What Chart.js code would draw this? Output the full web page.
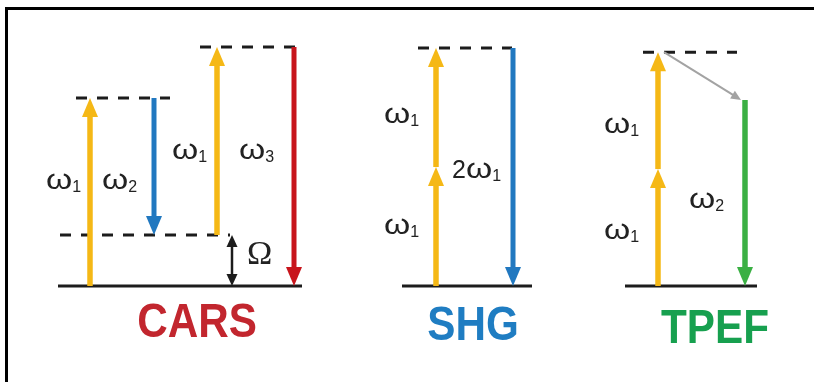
<!DOCTYPE html>
<html>
<head>
<meta charset="utf-8">
<script src="https://cdn.jsdelivr.net/npm/chart.js@4/dist/chart.umd.min.js"></script>
<style>
  html, body { margin: 0; padding: 0; background: #fff; }
  #wrap { width: 814px; height: 382px; }
</style>
</head>
<body>
<div id="wrap"><canvas id="diagram" width="814" height="382"></canvas></div>
<script>
// energies in units of the CARS pump photon (ground state = 0)
const panelNames = ['CARS', 'SHG', 'TPEF'];
const carsOmega = [1.0, 0.729, 1.271];   // ω1, ω2, ω3
const carsRaman = 0.271;                 // Ω
const shgOmega = [0.633, 1.266];         // ω1, 2ω1
const tpefOmega = [0.622, 0.99];         // ω1, ω2

const carsLabels = [['', '1'], ['', '2'], ['', '1'], ['', '3']];
const shgLabels = [['', '1'], ['', '1'], ['2', '1']];
const tpefLabels = [['', '1'], ['', '1'], ['', '2']];

const yellow = '#f5b816';
const blue = '#2178c0';
const red = '#c8151c';
const green = '#3bb044';
const gray = '#a3a3a3';
const ink = '#1c1c1c';
const titleColors = ['#c2262e', '#1f7dc2', '#17a04f'];

function level(x0, x1, e, dashed) {
    return {
        data: [{ x: x0, y: e }, { x: x1, y: e }],
        showLine: true,
        borderColor: ink,
        borderWidth: 3,
        borderDash: dashed ? [11, 10] : [],
        pointRadius: 0
    };
}

function arrow(x0, e0, x1, e1, color, width, opts) {
    return {
        data: [{ x: x0, y: e0 }, { x: x1, y: e1 }],
        showLine: false,
        pointRadius: 0,
        arrow: Object.assign({ color: color, width: width, headW: 16, headL: 19, both: false }, opts || {})
    };
}

const tpefTop = tpefOmega[0] * 2;

const datasets = [
    // CARS levels
    level(58, 302, 0, false),
    level(60, 230, carsRaman, true),
    level(76, 170, carsOmega[0], true),
    level(200, 295, carsOmega[2], true),
    // SHG levels
    level(402, 532, 0, false),
    level(418, 512, shgOmega[1], true),
    // TPEF levels
    level(625, 757, 0, false),
    level(643, 737, tpefTop, true),

    // CARS transitions
    arrow(90, 0, 90, carsOmega[0], yellow, 5.5),
    arrow(154, carsOmega[0], 154, carsOmega[0] - carsOmega[1], blue, 5),
    arrow(217, carsRaman, 217, carsRaman + carsOmega[0], yellow, 5.5),
    arrow(294, carsOmega[2], 294, 0, red, 5),
    arrow(232, carsRaman, 232, 0, ink, 2.5, { both: true, headW: 11, headL: 12 }),

    // SHG transitions
    arrow(436, 0, 436, shgOmega[0], yellow, 5.5),
    arrow(436, shgOmega[0], 436, shgOmega[1], yellow, 5.5),
    arrow(513, shgOmega[1], 513, 0, blue, 5),

    // TPEF transitions
    arrow(658, 0, 658, tpefOmega[0], yellow, 5.5),
    arrow(658, tpefOmega[0], 658, tpefTop, yellow, 5.5),
    arrow(664, tpefTop, 741, tpefOmega[1], gray, 2, { headW: 9, headL: 10 }),
    arrow(745, tpefOmega[1], 745, 0, green, 5.5)
];

// label anchors (left, baseline)
const carsLabelPos = [[46, 189], [102, 189], [172, 159], [239, 159]];
const shgLabelPos = [[384, 123], [384, 234], [452, 178]];
const tpefLabelPos = [[604, 133], [604, 239], [689, 208]];
const titlePos = [[197, 337], [473, 340], [715, 343]];

function drawHead(ctx, tx, ty, fx, fy, w, l, color) {
    const ang = Math.atan2(ty - fy, tx - fx);
    ctx.save();
    ctx.translate(tx, ty);
    ctx.rotate(ang);
    ctx.fillStyle = color;
    ctx.beginPath();
    ctx.moveTo(0, 0);
    ctx.lineTo(-l, w / 2);
    ctx.lineTo(-l, -w / 2);
    ctx.closePath();
    ctx.fill();
    ctx.restore();
}

function drawOmega(ctx, x, y, lbl) {
    ctx.save();
    ctx.fillStyle = '#222';
    ctx.textAlign = 'left';
    ctx.textBaseline = 'alphabetic';
    let cx = x;
    if (lbl[0]) {
        ctx.font = '25px "Liberation Sans"';
        ctx.fillText(lbl[0], cx, y);
        cx += ctx.measureText(lbl[0]).width;
    }
    ctx.font = '28px "Liberation Sans"';
    const w = ctx.measureText('ω').width * 1.2;
    ctx.save();
    ctx.translate(cx, y);
    ctx.scale(1.2, 1);
    ctx.fillText('ω', 0, 0);
    ctx.restore();
    cx += w;
    ctx.font = '16px "Liberation Sans"';
    ctx.fillText(lbl[1], cx, y + 3);
    ctx.restore();
}

const diagramPlugin = {
    id: 'diagram',
    beforeDraw(chart) {
        const ctx = chart.ctx;
        ctx.save();
        ctx.fillStyle = '#fff';
        ctx.fillRect(0, 0, chart.width, chart.height);
        ctx.fillStyle = '#000';
        ctx.fillRect(5, 7, chart.width - 5, 3);
        ctx.fillRect(5, 7, 3, chart.height - 7);
        ctx.restore();
    },
    afterDatasetsDraw(chart) {
        const ctx = chart.ctx;
        chart.data.datasets.forEach((ds, i) => {
            if (!ds.arrow) return;
            const pts = chart.getDatasetMeta(i).data;
            const a = ds.arrow;
            const p0 = pts[0], p1 = pts[1];
            const len = Math.hypot(p1.x - p0.x, p1.y - p0.y);
            const ux = (p1.x - p0.x) / len, uy = (p1.y - p0.y) / len;
            const sx = a.both ? p0.x + ux * a.headL * 0.8 : p0.x;
            const sy = a.both ? p0.y + uy * a.headL * 0.8 : p0.y;
            const ex = p1.x - ux * a.headL * 0.8;
            const ey = p1.y - uy * a.headL * 0.8;
            ctx.save();
            ctx.strokeStyle = a.color;
            ctx.lineWidth = a.width;
            ctx.lineCap = 'butt';
            ctx.beginPath();
            ctx.moveTo(sx, sy);
            ctx.lineTo(ex, ey);
            ctx.stroke();
            ctx.restore();
            drawHead(ctx, p1.x, p1.y, p0.x, p0.y, a.headW, a.headL, a.color);
            if (a.both) drawHead(ctx, p0.x, p0.y, p1.x, p1.y, a.headW, a.headL, a.color);
        });

        carsLabels.forEach((l, i) => drawOmega(ctx, carsLabelPos[i][0], carsLabelPos[i][1], l));
        shgLabels.forEach((l, i) => drawOmega(ctx, shgLabelPos[i][0], shgLabelPos[i][1], l));
        tpefLabels.forEach((l, i) => drawOmega(ctx, tpefLabelPos[i][0], tpefLabelPos[i][1], l));

        ctx.save();
        ctx.fillStyle = '#222';
        ctx.font = '34px "Liberation Serif"';
        ctx.textAlign = 'left';
        ctx.fillText('Ω', 247, 264);
        ctx.restore();

        panelNames.forEach((name, i) => {
            ctx.save();
            ctx.translate(titlePos[i][0], titlePos[i][1]);
            ctx.scale(0.88, 1);
            ctx.font = 'bold 48px "Liberation Sans"';
            ctx.textAlign = 'center';
            ctx.fillStyle = titleColors[i];
            ctx.fillText(name, 0, 0);
            ctx.restore();
        });
    }
};

new Chart(document.getElementById('diagram'), {
    type: 'scatter',
    data: { datasets: datasets },
    options: {
        responsive: false,
        animation: false,
        events: [],
        layout: { padding: 0 },
        plugins: { legend: { display: false }, tooltip: { enabled: false } },
        scales: {
            x: { type: 'linear', display: false, min: 0, max: 814 },
            y: { type: 'linear', display: false, min: -96 / 188, max: 286 / 188 }
        }
    },
    plugins: [diagramPlugin]
});
</script>
</body>
</html>
